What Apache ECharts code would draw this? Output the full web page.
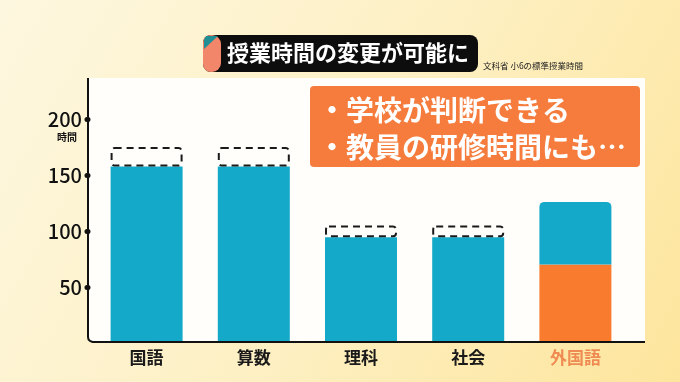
<!DOCTYPE html>
<html>
<head>
<meta charset="utf-8">
<script src="https://cdn.jsdelivr.net/npm/echarts@6/dist/echarts.min.js"></script>
<style>html,body{margin:0;padding:0;}#c{width:680px;height:382px;}</style>
</head>
<body>
<div id="c"></div>
<script>
const categories = ['国語', '算数', '理科', '社会', '外国語'];
const baseHours = [157.5, 157.5, 94.5, 94.5, 70];
const addedHours = ['-', '-', '-', '-', 56];
const reducedHours = [17.5, 17.5, 10.5, 10.5, '-'];
const yTicks = [50, 100, 150, 200];
const titleText = '授業時間の変更が可能に';
const sourceText = '文科省 小6の標準授業時間';
const noteLines = ['・学校が判断できる', '・教員の研修時間にも…'];

const FONT = '"Noto Sans CJK JP", "Noto Sans", sans-serif';
const BLUE = '#14a9c9';
const ORANGE = '#f97b2e';

const chart = echarts.init(document.getElementById('c'));

const option = {
  animation: false,
  textStyle: { fontFamily: FONT },
  graphic: [
    {
      type: 'rect', z: -10, silent: true,
      shape: { x: 0, y: 0, width: 680, height: 382 },
      style: {
        fill: new echarts.graphic.LinearGradient(0, 0, 1, 1, [
          { offset: 0, color: '#fdf7df' },
          { offset: 0.5, color: '#fdf0c4' },
          { offset: 1, color: '#fde59c' }
        ])
      }
    },
    {
      type: 'rect', z: -5, silent: true,
      shape: { x: 89, y: 78, width: 556, height: 264 },
      style: { fill: '#fffefa' }
    },
    {
      type: 'polyline', z: 5, silent: true,
      shape: { points: [[88, 78], [88, 337], [88.5, 339.5], [90, 341], [92.5, 342], [94, 342], [645, 342]] },
      style: { stroke: '#111', lineWidth: 2, fill: null }
    },
    // title banner
    {
      type: 'rect', z: 5, silent: true,
      shape: { x: 203, y: 35, width: 275, height: 37, r: 8 },
      style: { fill: '#0d0d0d' }
    },
    {
      type: 'rect', z: 6, silent: true,
      shape: { x: 203, y: 35, width: 18, height: 37, r: [8, 9, 9, 8] },
      style: { fill: '#f1866a' }
    },
    {
      type: 'polygon', z: 7, silent: true,
      shape: { points: [[206, 36], [218, 36], [204, 49], [204, 40]] },
      style: { fill: '#1f8f95' }
    },
    {
      type: 'text', z: 8, silent: true,
      x: 348, y: 53,
      style: {
        text: titleText, fill: '#ffffff', font: 'bold 22px ' + FONT,
        align: 'center', verticalAlign: 'middle'
      }
    },
    {
      type: 'text', z: 8, silent: true,
      x: 483, y: 66,
      style: {
        text: sourceText, fill: '#222', font: '8.5px ' + FONT,
        align: 'left', verticalAlign: 'middle'
      }
    },
    // note box
    {
      type: 'rect', z: 8, silent: true,
      shape: { x: 310, y: 86, width: 330, height: 81, r: 4 },
      style: { fill: '#f57c3c' }
    },
    {
      type: 'text', z: 9, silent: true,
      x: 318, y: 110,
      style: {
        text: noteLines[0], fill: '#ffffff', font: 'bold 28px ' + FONT,
        align: 'left', verticalAlign: 'middle'
      }
    },
    {
      type: 'text', z: 9, silent: true,
      x: 318, y: 147,
      style: {
        text: noteLines[1], fill: '#ffffff', font: 'bold 28px ' + FONT,
        align: 'left', verticalAlign: 'middle'
      }
    },
    {
      type: 'text', z: 9, silent: true,
      x: 67, y: 137,
      style: {
        text: '時間', fill: '#111', font: 'bold 10px ' + FONT,
        align: 'center', verticalAlign: 'middle'
      }
    }
  ],
  grid: { left: 93, right: 51, top: 78, bottom: 39, containLabel: false },
  xAxis: {
    type: 'category',
    data: categories.map((c, i) => i === categories.length - 1
      ? { value: c, textStyle: { color: '#ef8b52' } }
      : c),
    axisLine: { show: false },
    axisTick: { show: false },
    axisLabel: {
      color: '#1a1a1a', fontSize: 17, fontWeight: 'bold', margin: 6,
      fontFamily: FONT
    }
  },
  yAxis: {
    type: 'value',
    min: 0, max: 236.6,
    offset: 5,
    axisLine: { show: false },
    splitLine: { show: false },
    axisTick: {
      show: true, length: 1, inside: false,
      customValues: yTicks,
      lineStyle: { color: '#111', width: 5, cap: 'round' }
    },
    axisLabel: {
      customValues: yTicks,
      color: '#111', fontSize: 20, fontWeight: 500, margin: 6,
      fontFamily: FONT
    }
  },
  series: [
    {
      name: '標準', type: 'bar', stack: 'total', barWidth: 72,
      data: baseHours.map((v, i) => i === baseHours.length - 1
        ? { value: v, itemStyle: { color: ORANGE } }
        : v),
      itemStyle: { color: BLUE }
    },
    {
      name: '上乗せ', type: 'bar', stack: 'total', barWidth: 72,
      data: addedHours,
      itemStyle: { color: BLUE, borderRadius: [5, 5, 0, 0] }
    },
    {
      name: '削減分', type: 'bar', stack: 'total', barWidth: 72,
      data: reducedHours,
      itemStyle: {
        color: 'rgba(0,0,0,0)', borderColor: '#1a1a1a', borderWidth: 2,
        borderType: [7, 5], borderRadius: 3
      }
    }
  ]
};
chart.setOption(option);
</script>
</body>
</html>
